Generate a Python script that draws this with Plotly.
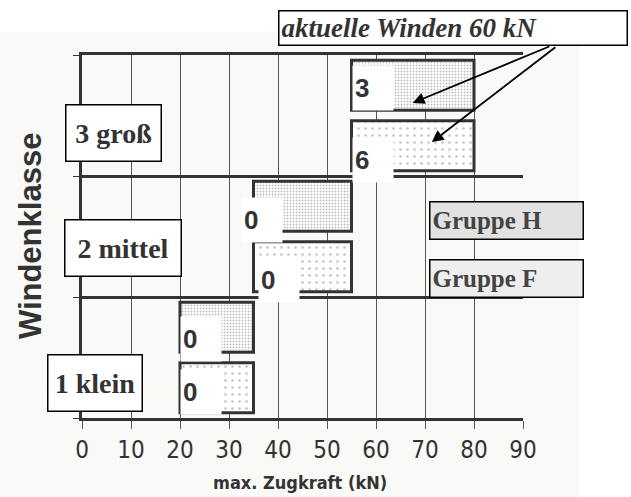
import plotly.graph_objects as go

categories = ["1 klein", "2 mittel", "3 groß"]
h_min = [20, 35, 55]
h_max = [35, 55, 80]
f_min = [20, 35, 55]
f_max = [35, 55, 80]
h_count = [0, 0, 3]
f_count = [0, 0, 6]
x_ticks = [0, 10, 20, 30, 40, 50, 60, 70, 80, 90]
group_names = ["Gruppe H", "Gruppe F"]
callout_text = "aktuelle Winden 60 kN"
callout_targets = [(67.5, 0.868), (71.4, 0.760)]

DARK = "#333333"
SERIF = "Liberation Serif, Times New Roman, serif"
SANS = "Liberation Sans, Arial, sans-serif"
NARROW = "DejaVu Sans Condensed, Liberation Sans Narrow, Arial Narrow, Liberation Sans, Arial, sans-serif"

fig = go.Figure()

fig.add_trace(go.Bar(
    y=categories, x=[b - a for a, b in zip(f_min, f_max)], base=f_min,
    orientation="h", name="Gruppe F",
    marker=dict(color="white", line=dict(color=DARK, width=3),
                pattern=dict(shape=".", fgcolor="#8a8a8a", bgcolor="white", size=7, solidity=0.12)),
    showlegend=False, hoverinfo="skip",
))
fig.add_trace(go.Bar(
    y=categories, x=[b - a for a, b in zip(h_min, h_max)], base=h_min,
    orientation="h", name="Gruppe H",
    marker=dict(color="white", line=dict(color=DARK, width=3),
                pattern=dict(shape=".", fgcolor="#808080", bgcolor="white", size=3, solidity=0.3)),
    showlegend=False, hoverinfo="skip",
))

annotations = []

# count labels (white boxes at bar start)
h_offsets = [(0, 19), (-13, 17), (0, 28)]
f_offsets = [(0, -34), (4, -43), (0, -44)]
for i, cat in enumerate(categories):
    for val, start, (dx, dy) in ((h_count[i], h_min[i], h_offsets[i]), (f_count[i], f_min[i], f_offsets[i])):
        annotations.append(dict(
            x=start, y=cat, xref="x", yref="y", xanchor="left", yanchor="middle",
            xshift=dx, yshift=dy, text=f"<b>{val}</b>", showarrow=False,
            font=dict(family=SANS, size=26, color=DARK),
            bgcolor="white", width=36, height=40, align="left", borderpad=2,
        ))

# category label boxes: (paper x, paper y, inner width)
cat_boxes = [(-0.0794, 0.0964, 93), (-0.0408, 0.468, 115), (-0.0385, 0.785, 94)]
for cat, (px, py, w) in zip(categories, cat_boxes):
    annotations.append(dict(
        x=px, y=py, xref="paper", yref="paper", xanchor="left", yanchor="middle",
        text=f"<b>{cat}</b>", showarrow=False,
        font=dict(family=SERIF, size=28, color=DARK),
        bgcolor="white", bordercolor="black", borderwidth=1.5, borderpad=0,
        width=w, height=55, align="center",
    ))

# legend boxes
leg_pos = [0.544, 0.384]
leg_bg = ["#e2e2e2", "#eeeeee"]
for name, py, bg in zip(group_names, leg_pos, leg_bg):
    annotations.append(dict(
        x=0.787, y=py, xref="paper", yref="paper", xanchor="left", yanchor="middle",
        text=f"<b>{name}</b>", showarrow=False,
        font=dict(family=SERIF, size=25, color="#444444"),
        bgcolor=bg, bordercolor="black", borderwidth=1.5, borderpad=2,
        width=148, height=32, align="left",
    ))

# callout
annotations.append(dict(
    x=0.4444, y=1.124, xref="paper", yref="paper", xanchor="left", yanchor="top",
    text=f"<b><i>{callout_text}</i></b>", showarrow=False,
    font=dict(family=SERIF, size=27, color=DARK),
    bgcolor="white", bordercolor="black", borderwidth=1.5, borderpad=2,
    width=343, height=29, align="left",
))
tails = [(138, -57), (125, -96)]
for (tx, ty), (ax, ay) in zip(callout_targets, tails):
    annotations.append(dict(
        x=tx, y=ty, xref="x", yref="paper", ax=ax, ay=ay, axref="pixel", ayref="pixel",
        text="", showarrow=True, arrowhead=2, arrowsize=1.3, arrowwidth=1.8, arrowcolor="black",
    ))

# axis titles
annotations.append(dict(
    x=-0.118, y=0.501, xref="paper", yref="paper", xanchor="center", yanchor="middle",
    text="<b>Windenklasse</b>", textangle=-90, showarrow=False,
    font=dict(family=SANS, size=31, color=DARK),
))
annotations.append(dict(
    x=0.494, y=-0.179, xref="paper", yref="paper", xanchor="center", yanchor="middle",
    text="<b>max. Zugkraft (kN)</b>", showarrow=False,
    font=dict(family=NARROW, size=18, color=DARK),
))

fig.update_layout(
    width=631, height=497,
    margin=dict(l=82, r=108, t=55, b=79),
    paper_bgcolor="white", plot_bgcolor="rgba(0,0,0,0)",
    barmode="group", bargap=0.0, bargroupgap=0.17,
    annotations=annotations,
    shapes=[dict(type="rect", xref="paper", yref="paper", x0=-0.186, x1=1.127, y0=-0.218, y1=1.063,
                 fillcolor="#f9f9f7", line=dict(width=0), layer="below")],
)
fig.update_xaxes(
    range=[0, 90], tickvals=x_ticks, ticktext=[str(v) for v in x_ticks],
    showgrid=True, gridcolor="#555555", gridwidth=1,
    showline=True, linecolor=DARK, linewidth=3, mirror=True,
    ticks="outside", ticklen=8, tickcolor="#555555",
    tickfont=dict(family=NARROW, size=24, color=DARK), zeroline=False,
)
fig.update_yaxes(
    categoryorder="array", categoryarray=categories, range=[-0.5, 2.5],
    tickson="boundaries", showgrid=True, gridcolor=DARK, gridwidth=2.5,
    showline=True, linecolor=DARK, linewidth=3,
    ticks="outside", ticklen=6, tickcolor=DARK, showticklabels=False, zeroline=False,
)

fig.write_html("out.html", config={"displayModeBar": False},
               post_script="document.body.style.margin='0';document.body.style.padding='0';")
